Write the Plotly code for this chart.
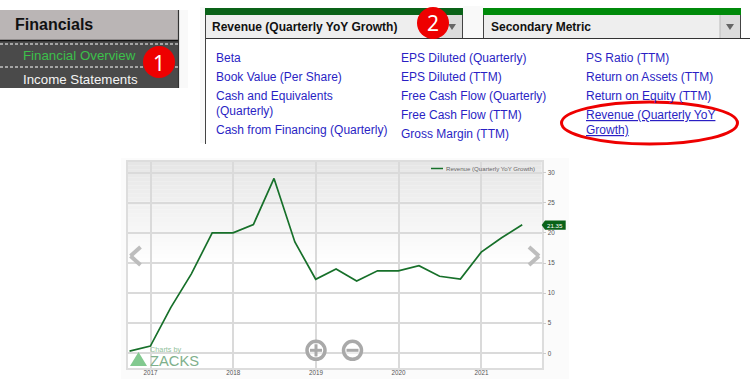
import plotly.graph_objects as go

W, H = 750, 379

# ---- data ----
quarter_ends = ["2016-09-30", "2016-12-31", "2017-03-31", "2017-06-30", "2017-09-30",
                "2017-12-31", "2018-03-31", "2018-06-30", "2018-09-30", "2018-12-31",
                "2019-03-31", "2019-06-30", "2019-09-30", "2019-12-31", "2020-03-31",
                "2020-06-30", "2020-09-30", "2020-12-31", "2021-03-31", "2021-06-30"]
revenue_growth = [0.35, 1.2, 7.6, 13.2, 20.0, 20.0, 21.4, 29.05, 18.5, 12.3,
                  14.0, 12.0, 13.7, 13.7, 14.55, 12.8, 12.35, 16.8, 19.2, 21.35]
series_name = "Revenue (Quarterly YoY Growth)"
year_ticks = ["2017-01-01", "2018-01-01", "2019-01-01", "2020-01-01", "2021-01-01"]
year_labels = ["2017", "2018", "2019", "2020", "2021"]
value_ticks = [0, 5, 10, 15, 20, 25, 30]
last_label = "21.35"

menu_col1 = [("Beta", 58), ("Book Value (Per Share)", 77), ("Cash and Equivalents", 96),
             ("(Quarterly)", 110.5), ("Cash from Financing (Quarterly)", 130)]
menu_col2 = [("EPS Diluted (Quarterly)", 58), ("EPS Diluted (TTM)", 77),
             ("Free Cash Flow (Quarterly)", 96), ("Free Cash Flow (TTM)", 115),
             ("Gross Margin (TTM)", 134)]
menu_col3 = [("PS Ratio (TTM)", 58), ("Return on Assets (TTM)", 77),
             ("Return on Equity (TTM)", 96)]
menu_col3_link = [("Revenue (Quarterly YoY", 115), ("Growth)", 130)]

# ---- page geometry ----
PL, PR, PT, PB = 127.5, 541.7, 161.7, 368.0
LINK = "#2a1fc4"
SANS = "Liberation Sans"


def fx(px):
    return px / W


def fy(py):
    return 1 - py / H


shapes = []
annotations = []


def rect(x0, y0, x1, y1, fill, line=None, lw=1, layer="below"):
    shapes.append(dict(type="rect", xref="paper", yref="paper", layer=layer,
                       x0=fx(x0), x1=fx(x1), y0=fy(y0), y1=fy(y1), fillcolor=fill,
                       line=dict(color=line or fill, width=lw if line else 0)))


def seg(x0, y0, x1, y1, color, lw=1, dash="solid", layer="above"):
    shapes.append(dict(type="line", xref="paper", yref="paper", layer=layer,
                       x0=fx(x0), x1=fx(x1), y0=fy(y0), y1=fy(y1),
                       line=dict(color=color, width=lw, dash=dash)))


def circle(cx, cy, r, fill, line=None, lw=0):
    shapes.append(dict(type="circle", xref="paper", yref="paper", layer="above",
                       x0=fx(cx - r), x1=fx(cx + r), y0=fy(cy - r), y1=fy(cy + r),
                       fillcolor=fill, line=dict(color=line or fill, width=lw)))


def poly(points, fill):
    path = "M " + " L ".join(f"{fx(a):.5f} {fy(b):.5f}" for a, b in points) + " Z"
    shapes.append(dict(type="path", xref="paper", yref="paper", layer="above", path=path,
                       fillcolor=fill, line=dict(width=0)))


def text(px, py, s, size=12, color="#000", anchor="left", family=SANS, under=False):
    font = dict(family=family, size=size, color=color)
    if under:
        font["lineposition"] = "under"
    annotations.append(dict(xref="paper", yref="paper", x=fx(px), y=fy(py), text=s,
                            showarrow=False, xanchor=anchor, yanchor="middle",
                            borderpad=0, borderwidth=0, font=font))


# ---- left "Financials" panel ----
rect(178, 10, 188, 88, "#f9f9f9")
rect(200, 7, 205, 143, "#f9f9f9")
rect(463, 6, 483, 38, "#f9f9f9")
rect(0, 10, 178, 40, "#bab5b5")
rect(0, 40, 178, 88, "#4a4a4a")
seg(0, 40.5, 178, 40.5, "#111", 1.5)
seg(178.5, 10, 178.5, 88, "#333", 1.2)
seg(0, 44, 178, 44, "#fff", 1, "3px,2px")
seg(0, 67, 178, 67, "#fff", 1, "3px,2px")
text(15, 24.5, "<b>Financials</b>", 16, "#111")
text(23, 55.5, "Financial Overview", 13.3, "#3cc04a")
text(23, 79.5, "Income Statements", 13.3, "#f4f4f4")
circle(159, 62, 16, "#ee0000")
text(159, 62.5, "1", 21, "#fff", "center", "Noto Sans")

# ---- dropdown headers ----
rect(205, 15, 463, 38, "#eeeeee")
rect(205, 8, 463, 15, "#0a6218")
rect(441, 15, 463, 38, "#dcdcdc")
rect(483, 15, 741, 38, "#eeeeee")
rect(483, 8, 741, 15, "#008a0a")
rect(720, 15, 741, 38, "#dcdcdc")
seg(205, 38.5, 750, 38.5, "#333", 1.2)
seg(205.5, 15, 205.5, 144, "#444", 1)
seg(462.5, 15, 462.5, 38, "#444", 1)
seg(483.5, 15, 483.5, 38, "#444", 1)
seg(740.5, 15, 740.5, 38, "#444", 1)
seg(720, 15, 720, 38, "#bbb", 1)
text(212, 27, "<b>Revenue (Quarterly YoY Growth)</b>", 12, "#111")
text(491, 27, "<b>Secondary Metric</b>", 12, "#111")
poly([(448, 24), (456, 24), (452, 30)], "#666")
poly([(726, 24), (734, 24), (730, 30)], "#666")
circle(433, 23, 16, "#ee0000")
text(433, 23, "2", 21, "#fff", "center", "Noto Sans")

# ---- link menu ----
for label, py in menu_col1:
    text(216, py, label, 12, LINK)
for label, py in menu_col2:
    text(400.7, py, label, 12, LINK)
for label, py in menu_col3:
    text(585.7, py, label, 12, LINK)
for label, py in menu_col3_link:
    text(585.7, py, label, 12, LINK, under=True)
shapes.append(dict(type="circle", xref="paper", yref="paper", layer="above",
                   x0=fx(561.5), x1=fx(737.5), y0=fy(102), y1=fy(144),
                   line=dict(color="#ee0000", width=3)))

# ---- chart frame and background gradient ----
rect(121, 158, 569, 379, "#fbfbfb")
rect(PL, PT, PR, PB, "#ffffff")
GRAD_STEPS = 25
GRAD_END = 262.0
for i in range(GRAD_STEPS):
    t0 = PT + (GRAD_END - PT) * i / GRAD_STEPS
    t1 = PT + (GRAD_END - PT) * (i + 1) / GRAD_STEPS
    level = int(230 + (254 - 230) * i / (GRAD_STEPS - 1))
    rect(PL, t0, PR, t1, f"rgb({level},{level},{level})")

# ---- chart overlay furniture ----
seg(140.5, 247, 130.5, 256, "#bdbdbd", 4)
seg(130.5, 256, 140.5, 265, "#bdbdbd", 4)
seg(529, 247, 539, 256, "#bdbdbd", 4)
seg(539, 256, 529, 265, "#bdbdbd", 4)

circle(316, 350.3, 9, "rgba(255,255,255,0.5)", "#a9a9a9", 3.5)
seg(310, 350.3, 322, 350.3, "#a9a9a9", 3)
seg(316, 344.3, 316, 356.3, "#a9a9a9", 3)
circle(352.5, 350.3, 9, "rgba(255,255,255,0.5)", "#a9a9a9", 3.5)
seg(346.5, 350.3, 358.5, 350.3, "#a9a9a9", 3)

poly([(130, 366), (138.5, 352), (147, 366)], "#82c98f")
text(150, 349, "Charts by", 7.3, "#93bf9c")
text(149.5, 360.5, "ZACKS", 14.7, "#7fb08c")

seg(431, 168.5, 443, 168.5, "#17702a", 1.5)
text(446, 168.5, series_name, 6.1, "#666")

poly([(541.7, 225), (545, 220.5), (565.7, 220.5), (565.7, 229.7), (545, 229.7)], "#0a6218")
text(555, 225, last_label, 6.2, "#fff", "center")

# ---- figure ----
fig = go.Figure()
fig.add_trace(go.Scatter(x=quarter_ends, y=revenue_growth, mode="lines", name=series_name,
                         line=dict(color="#17702a", width=1.7), showlegend=False,
                         hoverinfo="x+y"))

fig.update_layout(
    width=W, height=H, autosize=False,
    margin=dict(l=0, r=0, t=0, b=0, pad=0),
    paper_bgcolor="#ffffff", plot_bgcolor="rgba(0,0,0,0)",
    shapes=shapes, annotations=annotations, showlegend=False,
    xaxis=dict(type="date", domain=[fx(PL), fx(PR)],
               range=["2016-09-21", "2021-09-24"],
               tickmode="array", tickvals=year_ticks, ticktext=year_labels,
               showgrid=True, gridcolor="#dadada", gridwidth=1.5,
               showline=True, linecolor="#dddddd", linewidth=1.5, mirror=True,
               ticks="", zeroline=False, ticklabelstandoff=-2,
               tickfont=dict(family=SANS, size=6.3, color="#555")),
    yaxis=dict(domain=[fy(PB), fy(PT)], side="right",
               range=[-2.44, 31.83],
               tickmode="array", tickvals=value_ticks,
               showgrid=True, gridcolor="#dadada", gridwidth=1.5,
               showline=True, linecolor="#dddddd", linewidth=1.5, mirror=True,
               ticks="outside", ticklen=3, tickcolor="#cccccc", tickwidth=1, zeroline=False,
               ticklabelstandoff=0,
               tickfont=dict(family=SANS, size=6.3, color="#555")),
)
fig.write_html("out.html", config={"displayModeBar": False},
               post_script="document.body.style.margin='0';")
